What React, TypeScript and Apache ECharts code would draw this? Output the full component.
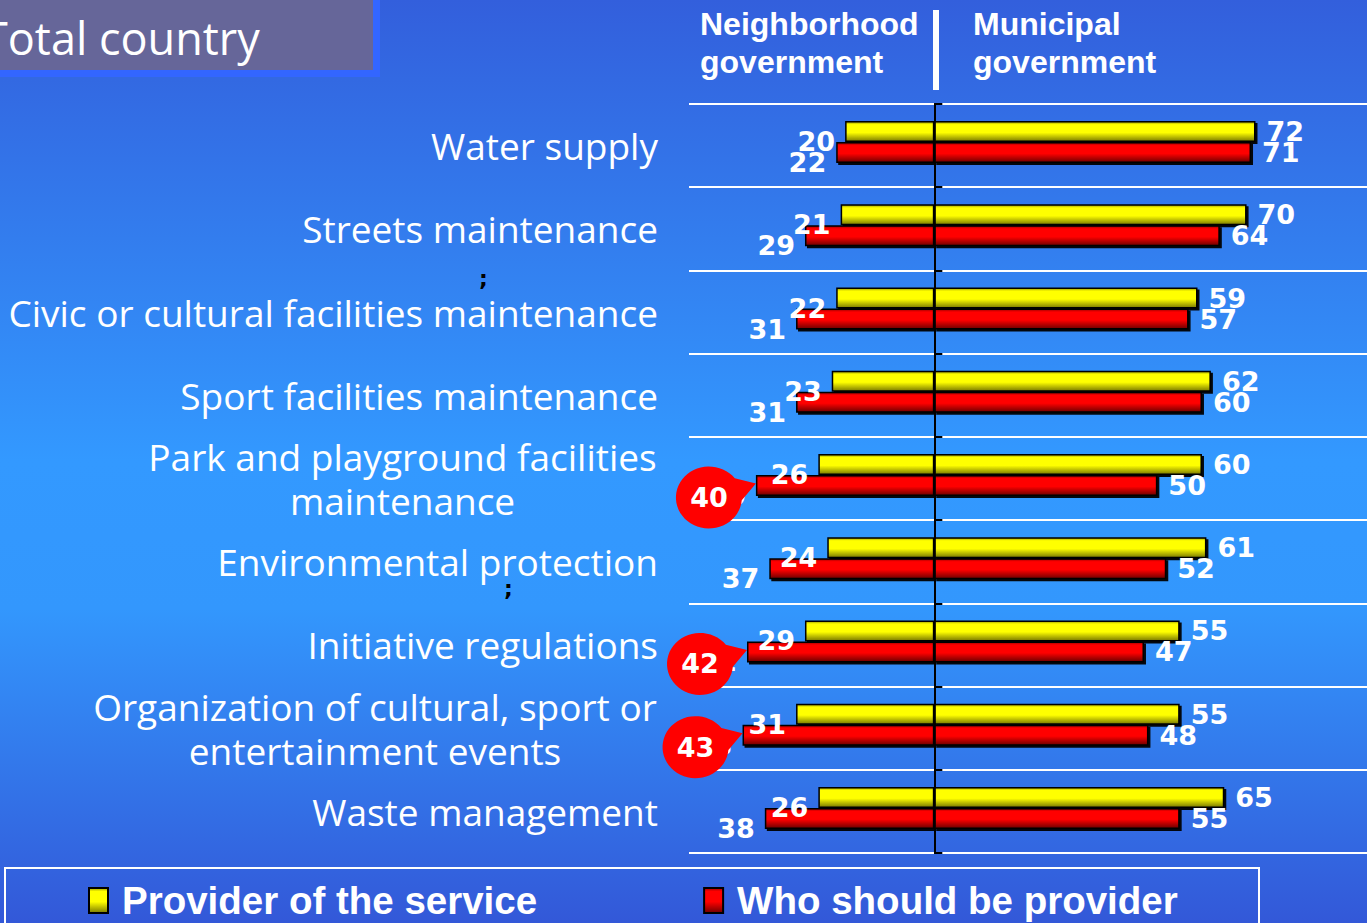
import React, { useEffect, useRef } from 'react';
import * as echarts from 'echarts';

// ---------- data ----------
const categories = [
  'Water supply',
  'Streets maintenance',
  'Civic or cultural facilities maintenance',
  'Sport facilities maintenance',
  'Park and playground facilities\nmaintenance',
  'Environmental protection',
  'Initiative regulations',
  'Organization of cultural, sport or\nentertainment events',
  'Waste management',
];
const neighborhoodProvider = [20, 21, 22, 23, 26, 24, 29, 31, 26];
const neighborhoodShould = [22, 29, 31, 31, 40, 37, 42, 43, 38];
const municipalProvider = [72, 70, 59, 62, 60, 61, 55, 55, 65];
const municipalShould = [71, 64, 57, 60, 50, 52, 47, 48, 55];
const highlightedRows = [4, 6, 7];
const seriesNames = ['Provider of the service', 'Who should be provider'];
const sideHeaders = ['Neighborhood\ngovernment', 'Municipal\ngovernment'];
const titleText = 'Total country';
const strayMarks = [';', ';'];

// ---------- styling helpers ----------
const LABEL_FONT = 'Open Sans';
const LABEL_SIZE = 37;
const VALUE_FONT = 'DejaVu Sans';

function measure(s: string): number {
  const c = document.createElement('canvas').getContext('2d');
  if (!c) return s.length * LABEL_SIZE * 0.5;
  c.font = `${LABEL_SIZE}px "${LABEL_FONT}"`;
  return c.measureText(s).width;
}

function bubble() {
  // callout: tip at (tx,ty) relative to (bar end, bar centre)
  const tx = 0, ty = -2, cx = -47, cy = 12, rx = 33, ry = 31;
  const dir = Math.atan2(ty - cy, tx - cx);
  const half = 0.38;
  const a1 = dir + half;
  const a2 = dir - half + Math.PI * 2;
  const pts: number[][] = [];
  const n = 48;
  for (let k = 0; k <= n; k++) {
    const a = a1 + ((a2 - a1) * k) / n;
    pts.push([cx + rx * Math.cos(a), cy + ry * Math.sin(a)]);
  }
  pts.push([tx, ty]);
  const xs = pts.map((p) => p[0]);
  const ys = pts.map((p) => p[1]);
  const minX = Math.min(...xs), maxX = Math.max(...xs);
  const minY = Math.min(...ys), maxY = Math.max(...ys);
  const d =
    'path://M' +
    pts.map((p) => `${p[0].toFixed(2)} ${p[1].toFixed(2)}`).join(' L') +
    ' Z';
  const bx = (minX + maxX) / 2;
  const by = (minY + maxY) / 2;
  return {
    symbol: d,
    size: [maxX - minX, maxY - minY],
    offset: [bx, by],
    labelOffset: [cx - bx, cy - by],
  };
}

export default function App() {
  const ref = useRef<HTMLDivElement>(null);

  useEffect(() => {
    if (!ref.current) return;
    const chart = echarts.init(ref.current, null, { renderer: 'svg' });

    const yellow = new echarts.graphic.LinearGradient(0, 0, 0, 1, [
      { offset: 0, color: '#9c9c00' },
      { offset: 0.14, color: '#ffff00' },
      { offset: 0.55, color: '#ffff00' },
      { offset: 1, color: '#7a7a00' },
    ]);
    const red = new echarts.graphic.LinearGradient(0, 0, 0, 1, [
      { offset: 0, color: '#a00000' },
      { offset: 0.14, color: '#ff0000' },
      { offset: 0.55, color: '#ff0000' },
      { offset: 1, color: '#6e0000' },
    ]);
    const barStyle = (color: any) => ({
      color,
      borderColor: '#000',
      borderWidth: 1.5,
      shadowColor: 'rgba(0,0,0,0.95)',
      shadowOffsetX: 2,
      shadowOffsetY: 2,
      shadowBlur: 0,
    });
    const barLabel = (pos: 'left' | 'right') => ({
      show: true,
      position: pos,
      distance: pos === 'left' ? 10 : 11,
      offset: pos === 'left' ? [0, 10] : [0, 0],
      color: '#fff',
      fontSize: 27,
      fontWeight: 'bold',
      fontFamily: VALUE_FONT,
      formatter: (p: any) => String(Math.abs(p.value)),
    });

    const rich: any = {};
    categories.forEach((c, i) => {
      const lines = c.split('\n');
      if (lines.length > 1) {
        rich['m' + i] = {
          width: Math.ceil(Math.max(...lines.map(measure))) + 2,
          align: 'center',
          color: '#fff',
          fontSize: LABEL_SIZE,
          fontFamily: LABEL_FONT,
          lineHeight: 44,
        };
      }
    });

    const b = bubble();

    const common = {
      type: 'bar',
      barWidth: 21,
      barGap: '0%',
      emphasis: { disabled: true },
    };

    chart.setOption({
      animation: false,
      backgroundColor: new echarts.graphic.LinearGradient(0, 0, 0, 1, [
        { offset: 0, color: '#335fdc' },
        { offset: 0.5, color: '#3399ff' },
        { offset: 0.66, color: '#3397fd' },
        { offset: 1, color: '#3358d8' },
      ]),
      grid: { left: 689, right: 0, top: 104, bottom: 70, containLabel: false },
      xAxis: [
        { type: 'value', min: -55, max: 97, show: false },
        { type: 'value', min: -55, max: 97, show: false },
      ],
      yAxis: [
        {
          type: 'category',
          data: categories,
          inverse: true,
          axisLine: { show: false, onZero: false },
          axisTick: { show: false },
          splitLine: { show: true, lineStyle: { color: '#ffffff', width: 2 } },
          axisLabel: {
            margin: 31,
            color: '#fff',
            fontSize: LABEL_SIZE,
            fontFamily: LABEL_FONT,
            lineHeight: 44,
            rich,
            formatter: (value: string, index: number) => {
              const lines = value.split('\n');
              return lines.length > 1
                ? lines.map((l) => `{m${index}|${l}}`).join('\n')
                : value;
            },
          },
        },
        {
          type: 'category',
          data: categories,
          inverse: true,
          position: 'left',
          axisLine: { show: true, onZero: true, lineStyle: { color: '#000', width: 2 } },
          axisTick: { show: true, inside: true, length: 8, lineStyle: { color: '#000', width: 2 } },
          axisLabel: { show: false },
          splitLine: { show: false },
        },
        {
          type: 'category',
          data: categories,
          inverse: true,
          position: 'left',
          axisLine: { show: true, onZero: true, lineStyle: { color: '#000', width: 2 } },
          axisTick: {
            show: true,
            inside: true,
            alignWithLabel: true,
            length: 8,
            lineStyle: { color: '#000', width: 2 },
          },
          axisLabel: { show: false },
          splitLine: { show: false },
        },
      ],
      legend: {
        data: seriesNames,
        left: 83,
        top: 876,
        icon: 'rect',
        itemWidth: 19,
        itemHeight: 25,
        itemGap: 166,
        selectedMode: false,
        textStyle: {
          color: '#fff',
          fontSize: 38.5,
          fontWeight: 'bold',
          fontFamily: 'Liberation Sans',
          padding: [0, 0, 0, 9],
        },
      },
      series: [
        {
          ...common,
          name: seriesNames[0],
          stack: 'provider',
          data: neighborhoodProvider.map((v) => -v),
          itemStyle: barStyle(yellow),
          label: barLabel('left'),
        },
        {
          ...common,
          name: seriesNames[0],
          stack: 'provider',
          data: municipalProvider,
          itemStyle: barStyle(yellow),
          label: barLabel('right'),
        },
        {
          ...common,
          name: seriesNames[1],
          stack: 'should',
          data: neighborhoodShould.map((v) => -v),
          itemStyle: barStyle(red),
          label: barLabel('left'),
          markPoint: {
            z: 10,
            symbol: b.symbol,
            symbolSize: b.size,
            symbolOffset: b.offset,
            symbolKeepAspect: false,
            itemStyle: { color: '#ff0000' },
            label: {
              show: true,
              position: 'inside',
              offset: b.labelOffset,
              color: '#fff',
              fontSize: 27,
              fontWeight: 'bold',
              fontFamily: VALUE_FONT,
              formatter: (p: any) => String(p.value),
            },
            data: highlightedRows.map((i) => ({
              coord: [-neighborhoodShould[i], i],
              value: neighborhoodShould[i],
            })),
          },
        },
        {
          ...common,
          name: seriesNames[1],
          stack: 'should',
          data: municipalShould,
          itemStyle: barStyle(red),
          label: barLabel('right'),
        },
        {
          // empty spacer column: nudges the bar pair slightly above band centre
          type: 'bar',
          stack: 'spacer',
          barWidth: 7,
          barGap: '0%',
          data: [],
          silent: true,
          itemStyle: { color: 'transparent' },
        },
      ],
      graphic: [
        { type: 'rect', shape: { x: 0, y: 0, width: 380, height: 77 }, style: { fill: '#3366ff' } },
        { type: 'rect', shape: { x: 0, y: 0, width: 373, height: 70 }, style: { fill: '#666699' } },
        {
          type: 'text',
          x: -17,
          y: 37,
          style: {
            text: titleText,
            fill: '#fff',
            fontSize: 45,
            fontFamily: LABEL_FONT,
            verticalAlign: 'middle',
          },
        },
        {
          type: 'text',
          x: 700,
          y: 5,
          style: {
            text: sideHeaders[0],
            fill: '#fff',
            fontSize: 32,
            fontWeight: 'bold',
            fontFamily: 'Liberation Sans',
            lineHeight: 38,
          },
        },
        { type: 'rect', shape: { x: 933, y: 10, width: 6, height: 80 }, style: { fill: '#fff' } },
        {
          type: 'text',
          x: 973,
          y: 5,
          style: {
            text: sideHeaders[1],
            fill: '#fff',
            fontSize: 32,
            fontWeight: 'bold',
            fontFamily: 'Liberation Sans',
            lineHeight: 38,
          },
        },
        {
          type: 'rect',
          shape: { x: 5, y: 868, width: 1254, height: 80 },
          style: { fill: 'none', stroke: '#fff', lineWidth: 2 },
        },
        {
          type: 'text',
          x: 479,
          y: 278,
          style: { text: strayMarks[0], fill: '#000', fontSize: 22, fontWeight: 'bold', fontFamily: VALUE_FONT, verticalAlign: 'middle' },
        },
        {
          type: 'text',
          x: 504,
          y: 588,
          style: { text: strayMarks[1], fill: '#000', fontSize: 22, fontWeight: 'bold', fontFamily: VALUE_FONT, verticalAlign: 'middle' },
        },
      ],
    });

    return () => chart.dispose();
  }, []);

  return (
    <div
      ref={ref}
      style={{ position: 'fixed', left: 0, top: 0, width: 1367, height: 923 }}
    />
  );
}
